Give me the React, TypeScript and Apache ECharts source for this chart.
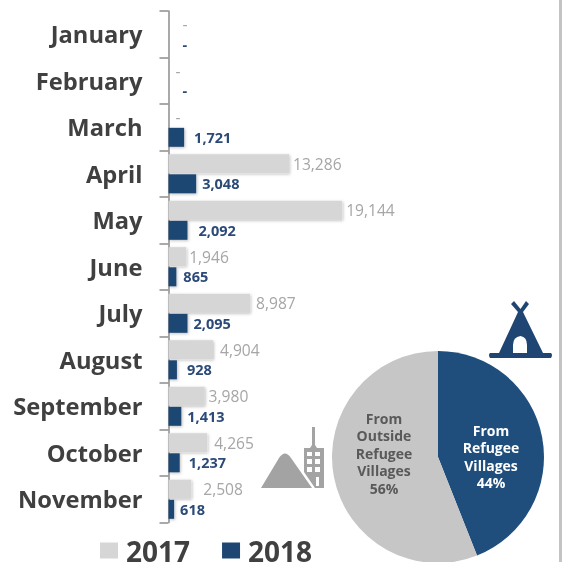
import React, { useEffect, useRef } from "react";
import * as echarts from "echarts";

const months = ["January","February","March","April","May","June","July","August","September","October","November"];
const values2017 = [0,0,0,13286,19144,1946,8987,4904,3980,4265,2508];
const values2018 = [0,0,1721,3048,2092,865,2095,928,1413,1237,618];
const labels2017 = ["-","-","-","13,286","19,144","1,946","8,987","4,904","3,980","4,265","2,508"];
const labels2018 = ["-","-","1,721","3,048","2,092","865","2,095","928","1,413","1,237","618"];
const offsets2017 = [12,5,5,2,2,1,4,5,2,5,10];
const offsets2018 = [12,12,8,4,9,5,4,8,4,7,4];
const pieNames = ["From\nRefugee\nVillages\n44%","From\nOutside\nRefugee\nVillages\n56%"];
const pieValues = [44,56];

const GREY="#d6d6d6", NAVY="#1f4673", FONT="'Open Sans', sans-serif";

const TENT="M26 0 L32.5 8 L38 0 L41 3 L35 11 L55 52 L63 52 Q65 54 63 57 L2 57 Q0 54 2 52 L11 52 L30 11 L23 3 Z M32.5 35 Q25 36 25 44 L25 52 L39 52 L39 44 Q39 36 32.5 35 Z";
const CITY="M0 61 L18 31 Q24 22 30 31 L51 61 Z M51 0 L54 0 L54 18 L56 21 L63 21 L63 61 L54 61 L43 45 L43 21 L49 21 L51 18 Z M46 25 L46 29 L51 29 L51 25 Z M54 25 L54 29 L59 29 L59 25 Z M46 32 L46 37 L51 37 L51 32 Z M54 32 L54 37 L59 37 L59 32 Z M46 40 L46 45 L51 45 L51 40 Z M54 40 L54 45 L59 45 L59 40 Z M55 50 L55 59 L58 59 L58 50 Z";
echarts.graphic.registerShape("tent", echarts.graphic.extendPath(TENT, {}) as any);
echarts.graphic.registerShape("city", echarts.graphic.extendPath(CITY, {}) as any);

export default function App() {
  const ref = useRef<HTMLDivElement>(null);
  useEffect(() => {
    const chart = echarts.init(ref.current!, undefined, { renderer: "svg" });
    const shadow = { shadowColor:"rgba(0,0,0,0.25)", shadowBlur:3, shadowOffsetX:1, shadowOffsetY:1 };
    chart.setOption({
      animation:false,
      backgroundColor:"#fff",
      grid:{ left:168.5, top:11, width:181.4, height:511.5, containLabel:false },
      xAxis:{ type:"value", min:0, max:20000, show:false },
      yAxis:{ type:"category", inverse:true, data:months,
        axisLine:{ lineStyle:{ color:"#8c8c8c", width:1.5 } },
        axisTick:{ show:true, length:9, lineStyle:{ color:"#8c8c8c", width:1.5 } },
        axisLabel:{ color:"#404040", fontFamily:FONT, fontWeight:"bold", fontSize:23.7, margin:26, padding:[0,0,2,0] } },
      legend:{ left:100, top:536.5, padding:0, itemWidth:18, itemHeight:16, itemGap:32,
        textStyle:{ color:"#404040", fontFamily:FONT, fontWeight:"bold", fontSize:28, padding:[0,0,0,3] },
        data:["2017","2018"], icon:"rect" },
      series:[
        { type:"bar", name:"2017", data:values2017.map((v,i)=>({ value:v,
            label:{ show:true, position:"right", distance:2+offsets2017[i], formatter:labels2017[i], color:"#a6a6a6", fontFamily:FONT, fontSize:15.6 } })),
          itemStyle:{ color:GREY, ...shadow }, barWidth:19, barGap:"6%" },
        { type:"bar", name:"2018", data:values2018.map((v,i)=>({ value:v,
            label:{ show:true, position:"right", distance:2+offsets2018[i], formatter:labels2018[i], color:"#2b4a78", fontFamily:FONT, fontWeight:"bold", fontSize:14.5 } })),
          itemStyle:{ color:NAVY, ...shadow }, barWidth:19 },
        { type:"pie", center:[438,457], radius:[0,106], startAngle:90, clockwise:true,
          data:[
            { name:pieNames[0], value:pieValues[0], itemStyle:{ color:"#1f4e7d" },
              label:{ color:"#fff", offset:[-2,10] } },
            { name:pieNames[1], value:pieValues[1], itemStyle:{ color:"#c6c6c6" },
              label:{ color:"#595959", offset:[1,-14] } },
          ],
          label:{ position:"inner", formatter:"{b}", fontFamily:FONT, fontWeight:"bold", fontSize:14, lineHeight:17.5 },
          labelLine:{ show:false } },
      ],
      graphic:[
        { type:"rect", shape:{ x:559, y:0, width:3, height:562 }, style:{ fill:"#c4c4c4" } },
        { type:"tent", x:488, y:301, style:{ fill:NAVY } },
        { type:"city", x:261, y:427, style:{ fill:"#a3a3a3" } },
      ],
    });
    return () => chart.dispose();
  }, []);
  return <div ref={ref} style={{ position:"absolute", left:0, top:0, width:562, height:562, filter:"blur(0.5px)" }} />;
}
